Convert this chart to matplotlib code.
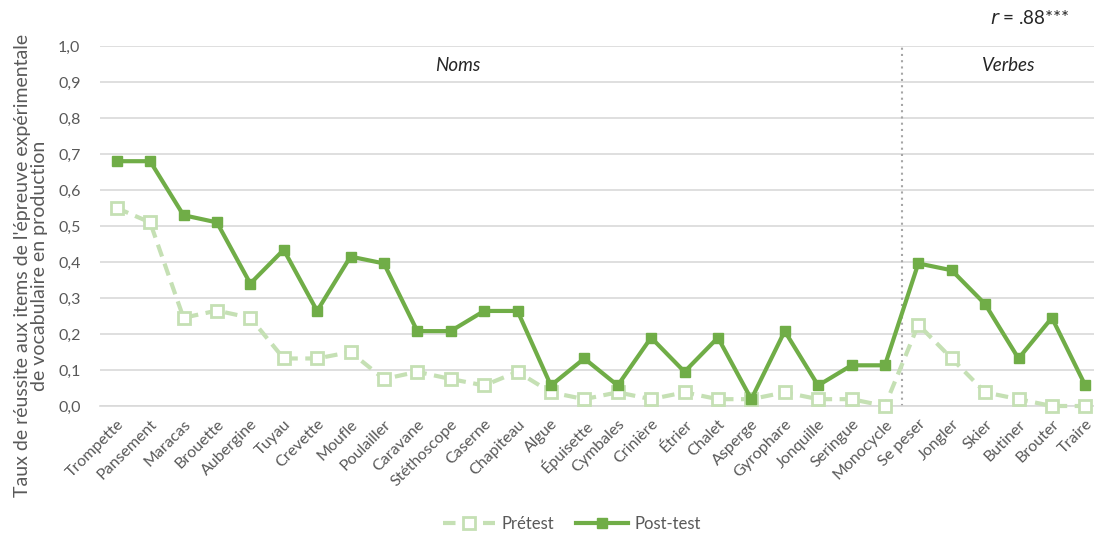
import matplotlib
matplotlib.use('Agg')
import matplotlib.pyplot as plt
import numpy as np

# Items (30) : noms puis verbes
items = ['Trompette', 'Pansement', 'Maracas', 'Brouette', 'Aubergine', 'Tuyau',
         'Crevette', 'Moufle', 'Poulailler', 'Caravane', 'Stéthoscope', 'Caserne',
         'Chapiteau', 'Algue', 'Épuisette', 'Cymbales', 'Crinière', 'Étrier',
         'Chalet', 'Asperge', 'Gyrophare', 'Jonquille', 'Seringue', 'Monocycle',
         'Se peser', 'Jongler', 'Skier', 'Butiner', 'Brouter', 'Traire']

pretest = [0.55, 0.51, 0.245, 0.265, 0.245, 0.132, 0.132, 0.15, 0.075, 0.095,
           0.075, 0.057, 0.095, 0.038, 0.019, 0.038, 0.019, 0.038, 0.019, 0.019,
           0.038, 0.019, 0.019, 0.0, 0.226, 0.132, 0.038, 0.019, 0.0, 0.0]

posttest = [0.68, 0.68, 0.53, 0.51, 0.34, 0.434, 0.264, 0.415, 0.396, 0.208,
            0.208, 0.264, 0.264, 0.057, 0.132, 0.057, 0.19, 0.095, 0.19, 0.019,
            0.208, 0.057, 0.113, 0.113, 0.396, 0.377, 0.283, 0.132, 0.245, 0.057]

n_noms = 24

plt.rcParams['font.family'] = ['Lato', 'DejaVu Sans']

fig = plt.figure(figsize=(10.94, 5.37), dpi=100)
ax = fig.add_axes([100 / 1094, 1 - 406 / 537, 994 / 1094, 360 / 537])

x = np.arange(len(items))
ax.plot(x, pretest, color='#C5E0B4', lw=3, ls=(0, (3, 1.8)), marker='s',
        markersize=8.5, markerfacecolor='white', markeredgecolor='#C5E0B4',
        markeredgewidth=2, label='Prétest', clip_on=False, zorder=3)
ax.plot(x, posttest, color='#70AD47', lw=3, marker='s', markersize=7.5,
        label='Post-test', clip_on=False, zorder=4)

ax.axvline(n_noms - 0.5, color='#A6A6A6', ls=(0, (1, 2)), lw=1.5,
           clip_on=False, zorder=2)

ax.set_xlim(-0.5, 29.26)
ax.set_ylim(0, 1.0)
ax.set_yticks(np.arange(0, 1.01, 0.1))
ax.set_yticklabels([f'{v:.1f}'.replace('.', ',') for v in np.arange(0, 1.01, 0.1)])
ax.yaxis.grid(True, color='#D9D9D9', lw=1.2)
ax.set_axisbelow(True)
for s in ax.spines.values():
    s.set_visible(False)
ax.spines['bottom'].set_visible(True)
ax.spines['bottom'].set_color('#D9D9D9')
ax.spines['bottom'].set_linewidth(1.2)

ax.set_xticks(x)
ax.set_xticklabels(items, rotation=45, ha='right', rotation_mode='anchor')
ax.tick_params(axis='both', length=0, labelsize=11.5, colors='#595959')
ax.tick_params(axis='x', pad=8)
ax.tick_params(axis='y', pad=14)

ax.set_ylabel("Taux de réussite aux items de l'épreuve expérimentale\nde vocabulaire en production",
              fontsize=14, color='#595959', linespacing=1.0)
ax.yaxis.set_label_coords(-0.052, 0.39)

ax.text(10.2, 0.945, 'Noms', style='italic', fontsize=13.5, ha='center', va='center',
        color='#262626')
ax.text(26.7, 0.945, 'Verbes', style='italic', fontsize=13.5, ha='center', va='center',
        color='#262626')

fig.text(1030 / 1094, 1 - 18 / 537, r'$r$ = .88***', fontsize=13.5, ha='center', va='center',
         color='#262626')

leg = fig.legend(loc='center', bbox_to_anchor=(572 / 1094, 1 - 524 / 537), ncol=2,
                 frameon=False, fontsize=12, handlelength=3.1, handletextpad=0.4,
                 columnspacing=1.3)
for t in leg.get_texts():
    t.set_color('#595959')

fig.savefig('out.png', dpi=100)
